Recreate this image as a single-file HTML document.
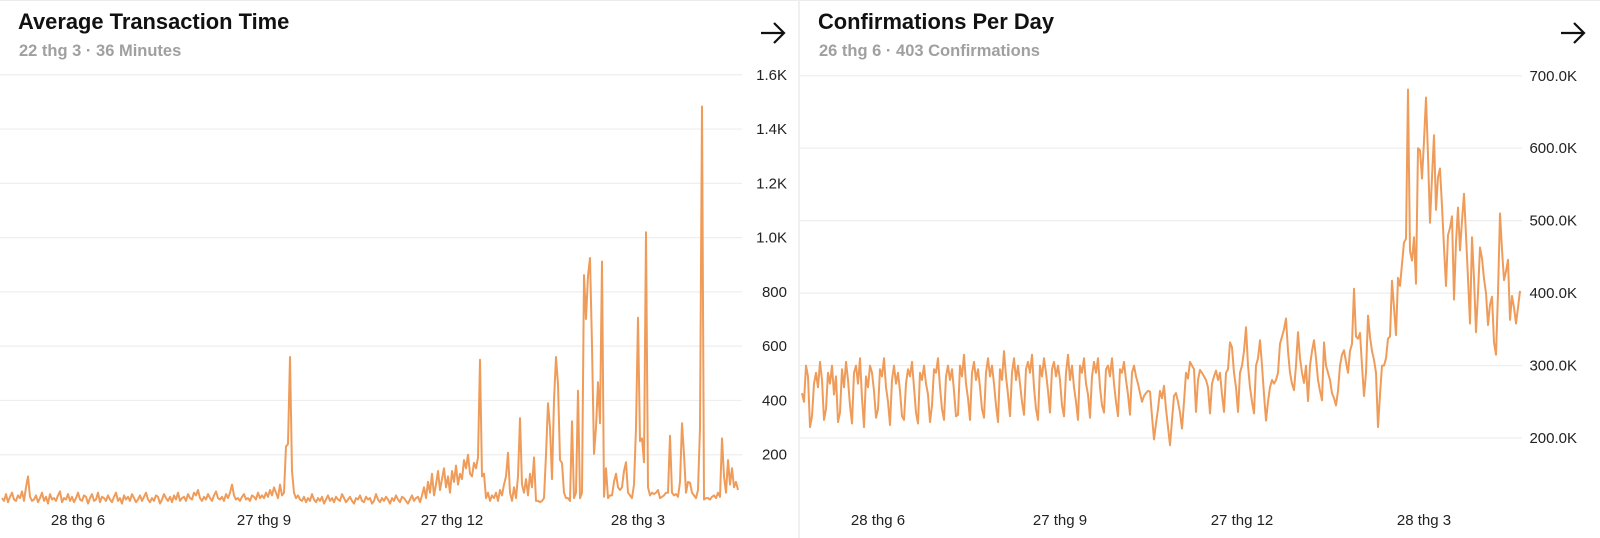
<!DOCTYPE html>
<html><head><meta charset="utf-8"><style>
body{margin:0;background:#fff;}
svg{display:block;font-family:"Liberation Sans",Arial,sans-serif;}
</style></head><body>
<svg id="c" width="1600" height="538" viewBox="0 0 1600 538" xmlns="http://www.w3.org/2000/svg">
<line x1="799" y1="0" x2="799" y2="538" stroke="#ececec" stroke-width="1.5"/>
<line x1="0" y1="0.5" x2="1600" y2="0.5" stroke="#ececec"/>
<g>
<text x="18" y="29" font-size="21.9" font-weight="bold" fill="#111">Average Transaction Time</text>
<text x="19" y="56" font-size="16.5" font-weight="bold" fill="#a0a0a0">22 thg 3 · 36 Minutes</text>
<g><path d="M761 33 H784 M774 23 L784 33 L774 43" stroke="#111" stroke-width="2.2" fill="none"/></g>
</g>
<g>
<text x="818" y="29" font-size="21.9" font-weight="bold" fill="#111">Confirmations Per Day</text>
<text x="819" y="56" font-size="16.5" font-weight="bold" fill="#a0a0a0">26 thg 6 · 403 Confirmations</text>
<g><path d="M1561 33 H1584 M1574 23 L1584 33 L1574 43" stroke="#111" stroke-width="2.2" fill="none"/></g>
</g>
<g id="lc"></g>
<g id="rc"></g>
</svg>
<script>
const xTickLabels = ["28 thg 6","27 thg 9","27 thg 12","28 thg 3"];
const leftTickDays = [38, 131, 225, 318];
const rightTickDays = [38, 129, 220, 311];
const leftTicks = [200,400,600,800,1000,1200,1400,1600];
const leftTickLabels = ["200","400","600","800","1.0K","1.2K","1.4K","1.6K"];
const rightTicks = [200,300,400,500,600,700];
const rightTickLabels = ["200.0K","300.0K","400.0K","500.0K","600.0K","700.0K"];
const leftValues = [40,30,55,25,45,60,35,30,50,40,65,30,80,120,45,30,
35,50,25,40,60,30,45,20,55,35,40,30,50,65,25,40,35,55,30,45,25,40,60,35,30,50,45,20,40,55,
30,35,60,25,45,40,30,50,35,25,45,60,30,40,20,50,35,45,30,55,40,25,35,50,30,45,60,35,25,40,
30,50,45,20,35,55,40,30,45,25,50,35,60,30,40,
45,30,55,40,35,60,50,70,40,30,45,35,55,40,30,50,65,40,35,45,30,55,40,60,90,50,35,40,30,45,55,35,40,30,50,45,35,60,40,50,
40,60,45,70,50,80,60,40,90,50,60,230,240,560,140,60,40,
50,35,30,45,25,40,30,55,35,25,40,30,45,20,35,50,30,40,25,45,35,30,55,40,25,35,45,30,20,40,
35,50,30,25,45,35,40,20,30,55,35,25,40,30,45,35,20,40,30,50,35,25,45,40,30,20,35,50,30,40,45,25,
50,80,40,100,60,130,50,90,140,70,110,150,80,120,60,140,100,160,90,130,110,180,150,200,130,120,170,150,190,
550,120,130,40,60,30,50,40,60,30,70,50,90,120,207,60,30,80,40,120,335,90,60,110,50,130,80,190,30,30,
25,30,40,200,390,300,110,400,560,460,180,170,60,40,40,30,323,40,60,436,40,60,862,700,860,925,600,203,300,467,
316,912,45,150,40,50,50,100,130,80,70,80,140,172,60,50,40,90,300,705,250,260,172,1020,80,50,60,55,60,70,
40,45,50,60,60,270,60,50,55,45,100,316,200,60,100,97,60,50,40,70,300,1483,
35,40,40,35,45,50,40,60,45,260,120,60,180,90,150,80,100,70];
const rightValues = [262,250,300,285,215,230,275,290,270,305,
280,225,240,290,275,300,260,285,222,235,
295,270,305,280,245,220,290,300,275,310,
255,215,285,270,300,290,265,228,240,295,
285,310,270,250,218,280,300,275,290,265,
230,225,275,295,285,305,270,235,220,290,
280,300,275,260,222,245,295,290,310,270,
240,225,285,300,280,295,265,230,232,300,
285,315,275,255,225,290,305,280,295,270,
240,228,290,310,285,300,275,245,222,295,
280,320,285,260,230,290,310,280,300,275,
250,232,295,305,290,315,270,240,225,300,
285,310,290,265,235,295,305,285,300,280,
245,230,290,315,280,300,270,250,225,300,
290,310,275,260,228,285,305,290,310,270,
245,235,295,300,285,310,275,250,230,295,
290,305,280,260,232,290,300,285,275,262,
250,258,262,265,264,230,198,220,240,265,
255,272,240,215,190,225,258,262,250,235,
213,250,290,282,305,300,295,236,280,294,
290,285,280,270,234,275,285,293,280,290,
260,236,290,295,332,325,290,270,236,290,
300,320,353,300,270,250,234,300,310,335,
300,260,224,250,270,280,275,280,290,330,
340,350,365,320,290,275,266,300,346,310,
290,276,300,251,300,320,335,310,280,265,
252,332,300,290,280,262,255,245,265,300,
315,321,305,290,320,330,406,340,337,345,
300,258,290,369,340,320,308,290,215,260,
300,300,310,337,340,417,380,342,421,410,
440,470,475,681,458,445,477,413,600,597,
558,610,670,590,497,560,618,515,560,572,
520,463,410,480,490,506,391,470,518,459,
500,537,480,420,358,477,420,346,400,463,
448,420,400,356,384,395,332,315,400,510,
460,418,430,446,363,396,380,358,380,403];

const NS="http://www.w3.org/2000/svg";
function mk(tag,attrs,parent){const e=document.createElementNS(NS,tag);for(const k in attrs)e.setAttribute(k,attrs[k]);parent.appendChild(e);return e;}

function drawChart(g, values, ticks, tickLabels, tickDays, x0, gridEnd, labelRight, yFn, prefix){
  const xFn = i => x0 + i*2;
  ticks.forEach((t,k)=>{
    const y=yFn(t);
    const gl=mk('line',{x1:x0-2,y1:y,x2:gridEnd,y2:y,stroke:'#eeeeee','stroke-width':1.2},g);
    
    
    const tl=mk('text',{x:labelRight,y:y+5,'text-anchor':'end','font-size':15,fill:'#222'},g);
    tl.textContent=tickLabels[k];
    
    
  });
  tickDays.forEach((d,k)=>{
    const t=mk('text',{x:xFn(d),y:525,'text-anchor':'middle','font-size':15,fill:'#222'},g);
    t.textContent=xTickLabels[k];
    
    
  });
  const pts=values.map((v,i)=>xFn(i).toFixed(1)+','+yFn(v).toFixed(1)).join(' ');
  const pl=mk('polyline',{points:pts,fill:'none',stroke:'#ef9c5a','stroke-width':2,'stroke-linejoin':'round'},g);
  
  
}
drawChart(document.getElementById('lc'), leftValues, leftTicks, leftTickLabels, leftTickDays, 2, 742, 787, v=>509 - v*0.2714, 'left');
drawChart(document.getElementById('rc'), rightValues, rightTicks, rightTickLabels, rightTickDays, 802, 1522, 1577, v=>438 - (v-200)*0.7245, 'right');
</script>
</body></html>
